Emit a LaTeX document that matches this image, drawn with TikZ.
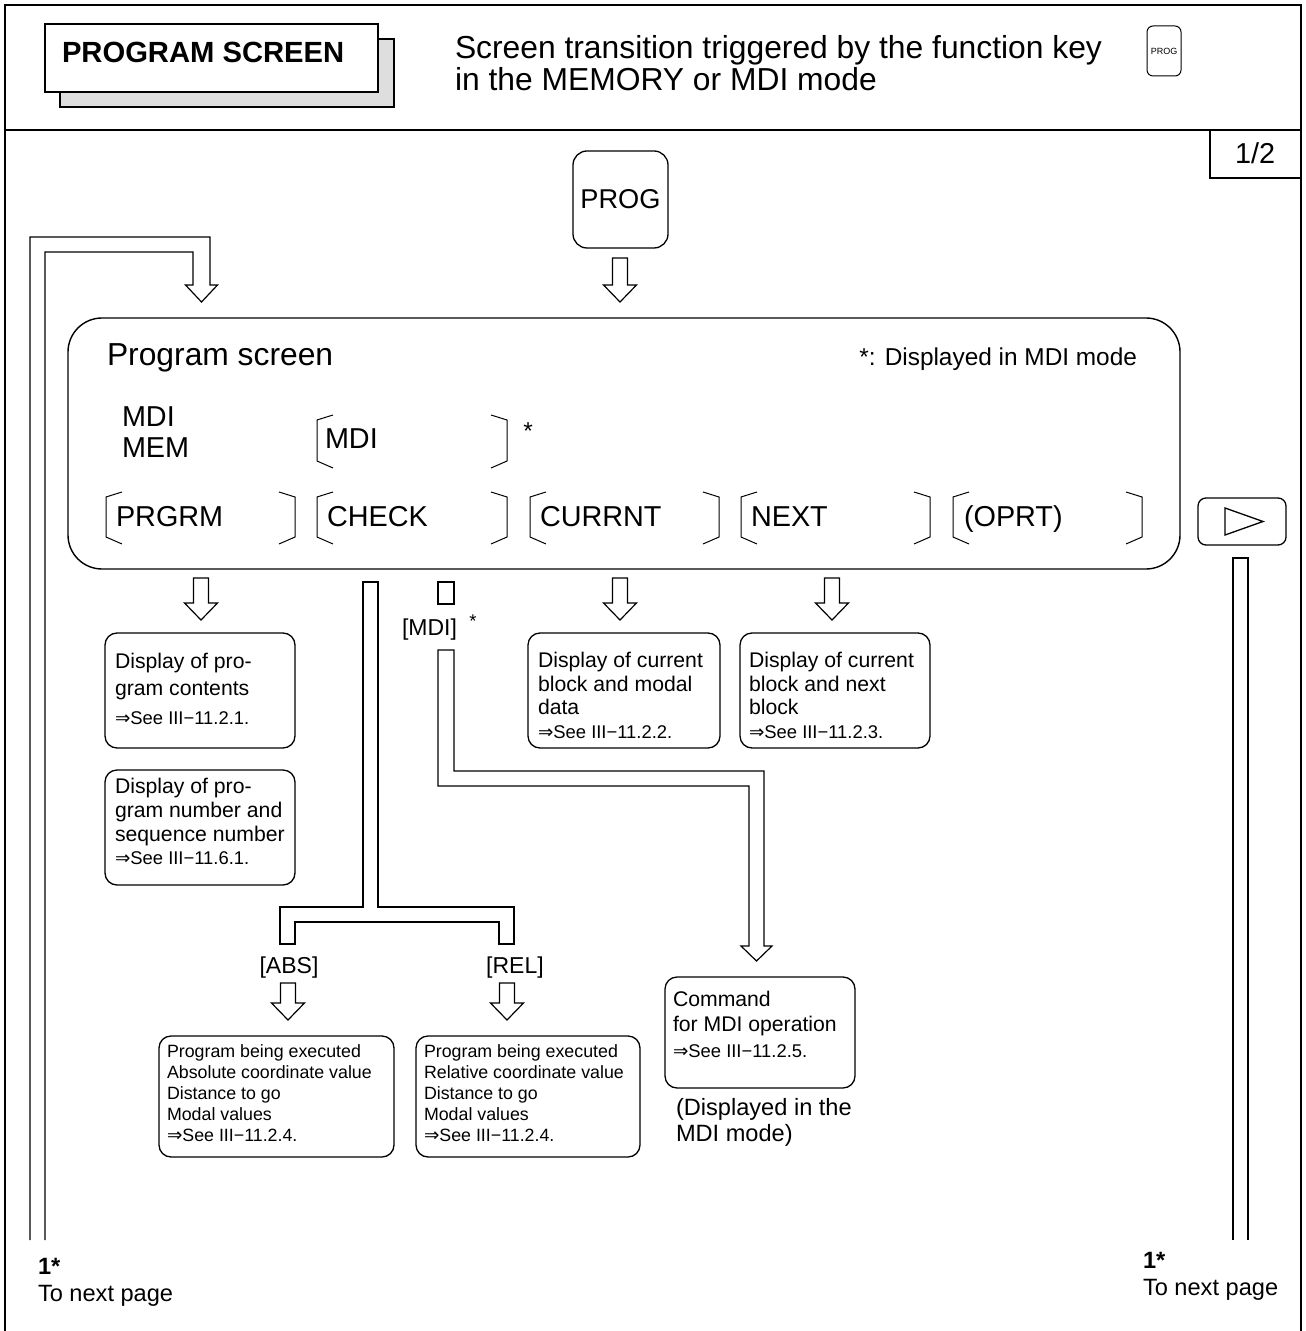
\documentclass[tikz,border=0pt]{standalone}
\usepackage{fontspec}
\setmainfont{Liberation Sans}
\newfontfamily\symfont{DejaVu Sans}
\usetikzlibrary{calc}

% font sizes (1 px of the layout grid = 0.5 pt)
\newcommand\fhdr{\fontsize{15.9}{16}\selectfont}
\newcommand\fttl{\fontsize{14.6}{16}\selectfont\bfseries}
\newcommand\fkey{\fontsize{14.4}{16}\selectfont}
\newcommand\fnote{\fontsize{12.2}{14}\selectfont}
\newcommand\fboxtxt{\fontsize{10.6}{12}\selectfont}
\newcommand\fref{\fontsize{9.2}{11}\selectfont}
\newcommand\fsmall{\fontsize{8.9}{10.5}\selectfont}
\newcommand\flbl{\fontsize{11.5}{13}\selectfont}
\newcommand\fdisp{\fontsize{11.8}{13}\selectfont}
\newcommand\seeref[1]{{\symfont\fref ⇒}See III−#1}

% hollow block arrow: x, top y, tip y
\newcommand\harrow[3]{%
  \draw[pipe] (#1-7.5,#2) -- (#1-7.5,#3-17) -- (#1-16.5,#3-17) -- (#1,#3)
    -- (#1+16.5,#3-17) -- (#1+7.5,#3-17) -- (#1+7.5,#2) -- cycle;}
% soft key brackets: left x, right x, top y, bottom y
\newcommand\softkey[4]{%
  \draw[bracket] (#1+16,#3) -- (#1,#3+5) -- (#1,#4-7) -- (#1+16,#4);
  \draw[bracket] (#2-16,#3) -- (#2,#3+5) -- (#2,#4-7) -- (#2-16,#4);}

\begin{document}
\begin{tikzpicture}[x=0.5pt,y=-0.5pt,
  every node/.style={inner sep=0pt,outer sep=0pt},
  frame/.style={line width=1pt},
  pipe/.style={line width=0.6pt,line join=miter},
  bracket/.style={line width=0.5pt},
  infobox/.style={draw,line width=0.65pt,rounded corners=6pt,anchor=north west},
  txt/.style={anchor=base west}]

\useasboundingbox (0,0) rectangle (1305,1331);

% page frame and header rule
\draw[frame] (5,1331) -- (5,5) -- (1301,5) -- (1301,1331);
\draw[frame] (5,130) -- (1301,130);

% title plate with shadow
\fill[black!13] (60,39) rectangle (394,107);
\draw[line width=0.6pt] (60,39) rectangle (394,107);
\node[draw,fill=white,line width=0.6pt,anchor=north west,minimum width=166.5pt,minimum height=34pt] (title) at (45,24) {};
\node[txt,font=\fttl] (titletext) at (62,63) {PROGRAM SCREEN};

% header caption
\node[txt,font=\fhdr] (cap1) at (455,59) {Screen transition triggered by the function key};
\node[txt,font=\fhdr] (cap2) at (455,91) {in the MEMORY or MDI mode};
\node[draw,line width=0.5pt,rounded corners=3pt,minimum width=17pt,minimum height=25pt,font=\fontsize{4.5}{5}\selectfont] (hkey) at (1164,51) {PROG};

% page number tab
\draw[line width=0.6pt] (1210,130) -- (1210,178) -- (1301,178);
\node[font=\fkey] (page) at (1255,153) {1/2};

% PROG function key
\node[draw,line width=0.65pt,rounded corners=7pt,minimum width=47.5pt,minimum height=48.5pt,font=\fontsize{13.6}{16}\selectfont] (prog) at (620.5,199.5) {PROG};
\harrow{620}{258}{302}

% return path from the next page
\draw[pipe] (30,1240) -- (30,237) -- (210,237) -- (210,285) -- (217.5,285) -- (201.5,302)
  -- (185.5,285) -- (193,285) -- (193,252) -- (45,252) -- (45,1240);

% program screen
\node[draw,line width=0.7pt,rounded corners=17pt,anchor=north west,minimum width=556pt,minimum height=125.5pt] (screen) at (68,318) {};
\node[txt,font=\fhdr] (ps) at (107,366) {Program screen};
\node[anchor=base east,font=\fnote] (mdinote) at (1137,366) {*: Displayed in MDI mode};
\node[txt,font=\fkey] (mdimode) at (122,427) {MDI};
\node[txt,font=\fkey] (memmode) at (122,458) {MEM};

\softkey{317}{507}{415}{468}
\node[txt,font=\fkey] (kmdi) at (325,449) {MDI};
\node[anchor=base,font=\fnote] (kstar) at (528,439) {*};

\softkey{106}{295}{492}{544}
\softkey{317}{507}{492}{544}
\softkey{530}{719}{492}{544}
\softkey{741}{930}{492}{544}
\softkey{953}{1142}{492}{544}
\node[txt,font=\fkey] (kprgrm) at (116,526) {PRGRM};
\node[txt,font=\fkey] (kcheck) at (327,526) {CHECK};
\node[txt,font=\fkey] (kcurr) at (540,526) {CURRNT};
\node[txt,font=\fkey] (knext) at (751,526) {NEXT};
\node[txt,font=\fkey] (koprt) at (964,526) {(OPRT)};

% continuation key
\node[draw,line width=0.65pt,rounded corners=4pt,minimum width=44pt,minimum height=23.5pt] (nextkey) at (1242,521.5) {};
\draw[line width=0.65pt] (1225,508) -- (1263,521.5) -- (1225,535) -- cycle;
\draw[pipe] (1233,1240) -- (1233,558) -- (1248,558) -- (1248,1240);

% arrows into the first-level screens
\harrow{201}{578}{620}
\harrow{620}{578}{620}
\harrow{832}{578}{620}

\node[infobox,minimum width=95pt,minimum height=57.5pt] (boxA) at (105,633) {};
\node[txt,font=\fboxtxt] (a1) at (115,668) {Display of pro-};
\node[txt,font=\fboxtxt] (a2) at (115,695) {gram contents};
\node[txt,font=\fref] (a3) at (115,724) {\seeref{11.2.1.}};

\node[infobox,minimum width=95pt,minimum height=57.5pt] (boxB) at (105,770) {};
\node[txt,font=\fboxtxt] (b1) at (115,793) {Display of pro-};
\node[txt,font=\fboxtxt] (b2) at (115,817) {gram number and};
\node[txt,font=\fboxtxt] (b3) at (115,841) {sequence number};
\node[txt,font=\fref] (b4) at (115,864) {\seeref{11.6.1.}};

\node[infobox,minimum width=96pt,minimum height=57.5pt] (boxC) at (528,633) {};
\node[txt,font=\fboxtxt] (c1) at (538,667) {Display of current};
\node[txt,font=\fboxtxt] (c2) at (538,691) {block and modal};
\node[txt,font=\fboxtxt] (c3) at (538,714) {data};
\node[txt,font=\fref] (c4) at (538,738) {\seeref{11.2.2.}};

\node[infobox,minimum width=95pt,minimum height=57.5pt] (boxD) at (740,633) {};
\node[txt,font=\fboxtxt] (d1) at (749,667) {Display of current};
\node[txt,font=\fboxtxt] (d2) at (749,691) {block and next};
\node[txt,font=\fboxtxt] (d3) at (749,714) {block};
\node[txt,font=\fref] (d4) at (749,738) {\seeref{11.2.3.}};

% CHECK branch
\draw[pipe] (363,907) -- (363,582) -- (378,582) -- (378,907) -- (514,907) -- (514,944)
  -- (499,944) -- (499,922) -- (295,922) -- (295,944) -- (280,944) -- (280,907) -- cycle;
\node[anchor=base,font=\flbl] (labs) at (289,973) {[ABS]};
\node[anchor=base,font=\flbl] (lrel) at (515,973) {[REL]};
\harrow{288}{983}{1020}
\harrow{507}{983}{1020}

\node[infobox,minimum width=117.5pt,minimum height=60.5pt] (boxE) at (159,1036) {};
\node[txt,font=\fsmall] (e1) at (167,1057) {Program being executed};
\node[txt,font=\fsmall] (e2) at (167,1078) {Absolute coordinate value};
\node[txt,font=\fsmall] (e3) at (167,1099) {Distance to go};
\node[txt,font=\fsmall] (e4) at (167,1120) {Modal values};
\node[txt,font=\fsmall] (e5) at (167,1141) {\seeref{11.2.4.}};

\node[infobox,minimum width=112pt,minimum height=60.5pt] (boxF) at (416,1036) {};
\node[txt,font=\fsmall] (f1) at (424,1057) {Program being executed};
\node[txt,font=\fsmall] (f2) at (424,1078) {Relative coordinate value};
\node[txt,font=\fsmall] (f3) at (424,1099) {Distance to go};
\node[txt,font=\fsmall] (f4) at (424,1120) {Modal values};
\node[txt,font=\fsmall] (f5) at (424,1141) {\seeref{11.2.4.}};

% MDI branch
\draw[pipe] (438,582) rectangle (454,604);
\node[anchor=base,font=\flbl] (lmdi) at (429.5,635) {[MDI]};
\node[anchor=base,font=\fref] (lstar) at (473,627) {*};
\draw[pipe] (438,786) -- (438,650) -- (454,650) -- (454,771) -- (764,771) -- (764,946)
  -- (772,946) -- (756.5,961) -- (741,946) -- (749,946) -- (749,786) -- cycle;

\node[infobox,minimum width=95pt,minimum height=55.5pt] (boxG) at (665,977) {};
\node[txt,font=\fboxtxt] (g1) at (673,1006) {Command};
\node[txt,font=\fboxtxt] (g2) at (673,1031) {for MDI operation};
\node[txt,font=\fref] (g3) at (673,1057) {\seeref{11.2.5.}};
\node[txt,font=\fdisp] (disp1) at (676,1115) {(Displayed in the};
\node[txt,font=\fdisp] (disp2) at (676,1141) {MDI mode)};

% page continuation marks
\node[txt,font=\fdisp\bfseries] (cl1) at (38,1274) {1*};
\node[txt,font=\fdisp] (cl2) at (38,1301) {To next page};
\node[txt,font=\fdisp\bfseries] (cr1) at (1143,1268) {1*};
\node[txt,font=\fdisp] (cr2) at (1143,1295) {To next page};

\end{tikzpicture}
\end{document}
